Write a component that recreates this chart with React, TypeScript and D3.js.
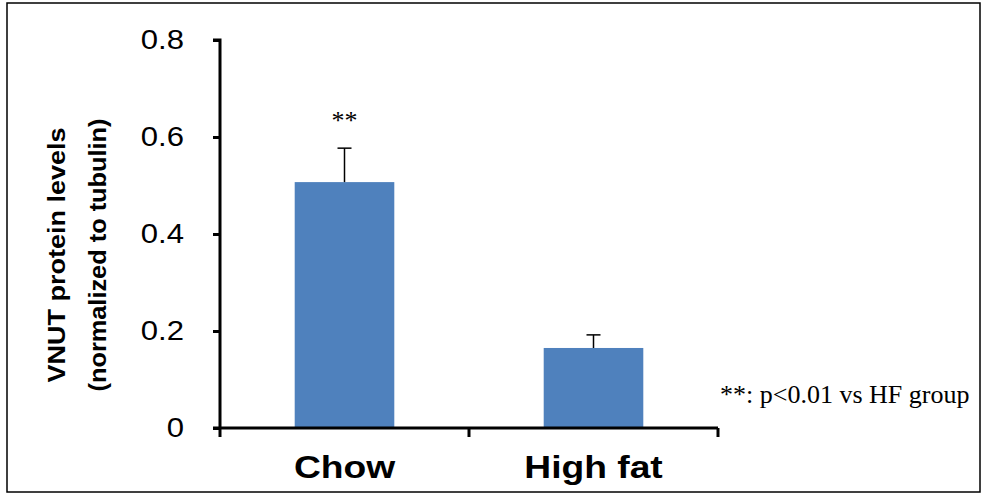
import React, { useEffect, useRef } from "react";
import * as d3 from "d3";

// Chart data
const groups: string[] = ["Chow", "High fat"];
const means: number[] = [0.507, 0.165];
const errors: number[] = [0.07, 0.027];
const marks: string[] = ["**", ""];
const yTicks: number[] = [0, 0.2, 0.4, 0.6, 0.8];
const yTitle: string[] = ["VNUT protein levels", "(normalized to tubulin)"];
const note = "**: p<0.01 vs HF group";

const W = 982;
const H = 494;

// widen text a little, the source glyphs look stretched sideways
const stretch = (sel: any, k: number) => {
  sel.each(function (this: SVGTextElement) {
    const len = this.getComputedTextLength();
    d3.select(this).attr("textLength", len * k).attr("lengthAdjust", "spacingAndGlyphs");
  });
};

const App = () => {
  const svgRef = useRef<SVGSVGElement>(null);

  useEffect(() => {
    document.body.style.margin = "0";
    const svg = d3.select(svgRef.current);
    svg.selectAll("*").remove();

    // outer frame
    svg
      .append("rect")
      .attr("x", 7)
      .attr("y", 3)
      .attr("width", 973)
      .attr("height", 489)
      .attr("fill", "none")
      .attr("stroke", "#000")
      .attr("stroke-width", 1.5);

    const x0 = 220;
    const x1 = 718;
    const y = d3.scaleLinear().domain([0, 0.8]).range([428, 40]);
    const x = d3
      .scaleBand()
      .domain(groups)
      .range([x0, x1])
      .paddingInner(0.6)
      .paddingOuter(0.3);

    const rows = groups.map((g, i) => ({ g, m: means[i], e: errors[i], s: marks[i] }));

    // bars
    svg
      .selectAll(".bar")
      .data(rows)
      .enter()
      .append("rect")
      .attr("class", "bar")
      .attr("x", (d) => x(d.g)!)
      .attr("y", (d) => y(d.m))
      .attr("width", x.bandwidth())
      .attr("height", (d) => y(0) - y(d.m))
      .attr("fill", "#4F81BD");

    // error bars (upper only)
    const eb = svg.append("g").attr("stroke", "#000").attr("stroke-width", 1.5);
    rows.forEach((d) => {
      const cx = x(d.g)! + x.bandwidth() / 2;
      eb.append("line")
        .attr("x1", cx)
        .attr("x2", cx)
        .attr("y1", y(d.m))
        .attr("y2", y(d.m + d.e));
      eb.append("line")
        .attr("x1", cx - 7)
        .attr("x2", cx + 7)
        .attr("y1", y(d.m + d.e))
        .attr("y2", y(d.m + d.e));
    });

    // significance marks
    svg
      .selectAll(".sig")
      .data(rows)
      .enter()
      .append("text")
      .attr("class", "sig")
      .attr("x", (d) => x(d.g)! + x.bandwidth() / 2)
      .attr("y", (d) => y(d.m + d.e) - 19)
      .attr("text-anchor", "middle")
      .style("font-family", "'Liberation Serif', 'Times New Roman', serif")
      .style("font-size", "26px")
      .text((d) => d.s);

    // y axis
    const yAxis = svg
      .append("g")
      .attr("transform", `translate(${x0},0)`)
      .call(
        d3
          .axisLeft(y)
          .tickValues(yTicks)
          .tickSize(7)
          .tickPadding(29)
          .tickFormat((d) => (d === 0 ? "0" : d3.format(".1f")(d as number)))
      );
    yAxis.select(".domain").attr("stroke-width", 3).attr("d", `M-7,${y(0.8)}H0V${y(0)}`);
    yAxis.selectAll(".tick line").attr("stroke-width", 3);
    const yLabels = yAxis
      .selectAll(".tick text")
      .style("font-family", "'Liberation Sans', Arial, sans-serif")
      .style("font-size", "27px")
      .attr("fill", "#000");
    stretch(yLabels, 1.15);

    // x axis
    const xAxis = svg.append("g").attr("transform", `translate(0,${y(0)})`);
    xAxis
      .append("path")
      .attr("d", `M${x0 - 7},0H${x1}`)
      .attr("stroke", "#000")
      .attr("stroke-width", 3)
      .attr("fill", "none");
    const sep = [x0, (x0 + x1) / 2, x1];
    xAxis
      .selectAll(".xt")
      .data(sep)
      .enter()
      .append("line")
      .attr("x1", (d) => d)
      .attr("x2", (d) => d)
      .attr("y1", 0)
      .attr("y2", 9)
      .attr("stroke", "#000")
      .attr("stroke-width", 3);
    const xLabels = xAxis
      .selectAll(".xl")
      .data(groups)
      .enter()
      .append("text")
      .attr("x", (d) => x(d)! + x.bandwidth() / 2)
      .attr("y", 50)
      .attr("text-anchor", "middle")
      .style("font-family", "'Liberation Sans', Arial, sans-serif")
      .style("font-weight", "bold")
      .style("font-size", "31px")
      .text((d) => d);
    stretch(xLabels, 1.2);

    // y title
    const yt = svg
      .append("text")
      .attr("transform", "rotate(-90)")
      .attr("text-anchor", "middle")
      .style("font-family", "'Liberation Sans', Arial, sans-serif")
      .style("font-weight", "bold")
      .style("font-size", "24px");
    yt.append("tspan").attr("x", -255).attr("y", 65).text(yTitle[0]);
    yt.append("tspan").attr("x", -255).attr("y", 106).text(yTitle[1]);
    stretch(yt.selectAll("tspan"), 1);
    yt.selectAll("tspan").attr("textLength", (_d, i) => (i === 0 ? 255 : 273));

    // note
    svg
      .append("text")
      .attr("x", 720)
      .attr("y", 403)
      .style("font-family", "'Liberation Serif', 'Times New Roman', serif")
      .style("font-size", "26px")
      .text(note);
  }, []);

  return (
    <div>
      <svg ref={svgRef} width={W} height={H} style={{ display: "block", background: "#fff" }} />
    </div>
  );
};

export default App;
